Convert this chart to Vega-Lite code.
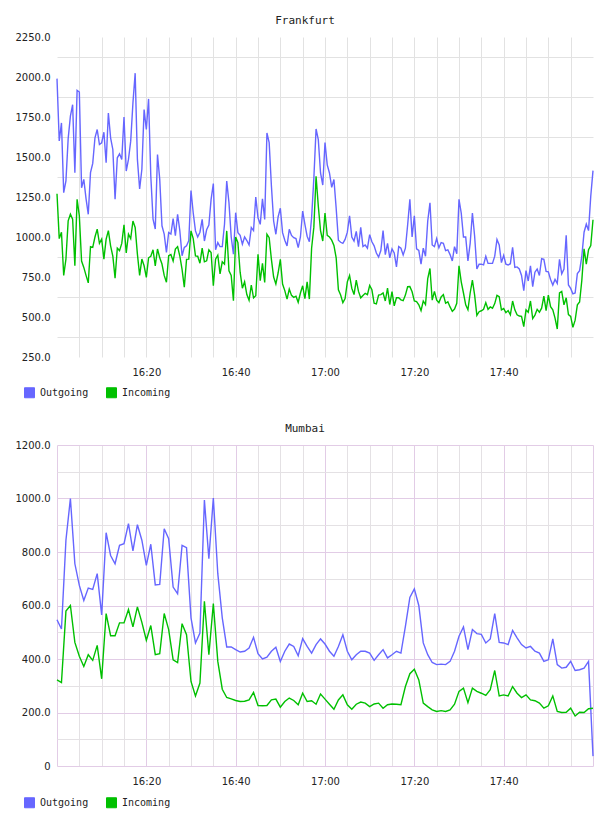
{
  "$schema": "https://vega.github.io/schema/vega-lite/v6.json",
  "background": "white",
  "padding": {"left": 15, "top": 15, "right": 12, "bottom": 5},
  "spacing": 23,
  "resolve": {"legend": {"color": "independent"}},
  "config": {
    "view": {"stroke": null},
    "title": {"font": "DejaVu Sans Mono", "fontSize": 11, "fontWeight": "normal", "color": "#222222", "anchor": "middle", "offset": 6, "dx": -20},
    "axis": {"labelFont": "DejaVu Sans", "labelFontSize": 10, "labelColor": "#222222", "domain": false, "ticks": false, "title": null, "labelOverlap": false, "labelFlush": false},
    "legend": {"orient": "none", "direction": "horizontal", "title": null, "symbolType": "square", "symbolSize": 100, "symbolStrokeWidth": 1, "labelFont": "DejaVu Sans Mono", "labelFontSize": 10, "labelColor": "#222222", "labelOffset": 5, "columnPadding": 15, "padding": 0}
  },
  "vconcat": [
    {
      "title": "Frankfurt",
      "width": 536,
      "height": 320,
      "data": {
        "values": [
          {"m":0,"Outgoing":1990,"Incoming":1270},{"m":0.5,"Outgoing":1600,"Incoming":990},{"m":1,"Outgoing":1713,"Incoming":1030},{"m":1.5,"Outgoing":1277,"Incoming":760},{"m":2,"Outgoing":1350,"Incoming":862},{"m":2.5,"Outgoing":1615,"Incoming":1101},{"m":3,"Outgoing":1755,"Incoming":1142},{"m":3.5,"Outgoing":1827,"Incoming":1111},{"m":4,"Outgoing":1402,"Incoming":821},{"m":4.5,"Outgoing":1916,"Incoming":1236},
          {"m":5,"Outgoing":1906,"Incoming":1132},{"m":5.5,"Outgoing":1308,"Incoming":850},{"m":6,"Outgoing":1360,"Incoming":810},{"m":6.5,"Outgoing":1240,"Incoming":760},{"m":7,"Outgoing":1142,"Incoming":713},{"m":7.5,"Outgoing":1402,"Incoming":940},{"m":8,"Outgoing":1460,"Incoming":935},{"m":8.5,"Outgoing":1620,"Incoming":1000},{"m":9,"Outgoing":1672,"Incoming":1049},{"m":9.5,"Outgoing":1578,"Incoming":960},
          {"m":10,"Outgoing":1589,"Incoming":987},{"m":10.5,"Outgoing":1655,"Incoming":862},{"m":11,"Outgoing":1464,"Incoming":987},{"m":11.5,"Outgoing":1775,"Incoming":1040},{"m":12,"Outgoing":1620,"Incoming":945},{"m":12.5,"Outgoing":1547,"Incoming":880},{"m":13,"Outgoing":1236,"Incoming":742},{"m":13.5,"Outgoing":1495,"Incoming":930},{"m":14,"Outgoing":1520,"Incoming":915},{"m":14.5,"Outgoing":1485,"Incoming":960},
          {"m":15,"Outgoing":1750,"Incoming":1076},{"m":15.5,"Outgoing":1412,"Incoming":900},{"m":16,"Outgoing":1485,"Incoming":1018},{"m":16.5,"Outgoing":1599,"Incoming":990},{"m":17,"Outgoing":1838,"Incoming":1100},{"m":17.5,"Outgoing":2024,"Incoming":1060},{"m":18,"Outgoing":1485,"Incoming":893},{"m":18.5,"Outgoing":1300,"Incoming":760},{"m":19,"Outgoing":1423,"Incoming":862},{"m":19.5,"Outgoing":1796,"Incoming":820},
          {"m":20,"Outgoing":1672,"Incoming":748},{"m":20.5,"Outgoing":1863,"Incoming":870},{"m":21,"Outgoing":1381,"Incoming":880},{"m":21.5,"Outgoing":1111,"Incoming":920},{"m":22,"Outgoing":1050,"Incoming":820},{"m":22.5,"Outgoing":1516,"Incoming":925},{"m":23,"Outgoing":1360,"Incoming":870},{"m":23.5,"Outgoing":1070,"Incoming":831},{"m":24,"Outgoing":1018,"Incoming":760},{"m":24.5,"Outgoing":904,"Incoming":717},
          {"m":25,"Outgoing":1028,"Incoming":883},{"m":25.5,"Outgoing":1018,"Incoming":890},{"m":26,"Outgoing":1115,"Incoming":850},{"m":26.5,"Outgoing":1008,"Incoming":925},{"m":27,"Outgoing":1142,"Incoming":940},{"m":27.5,"Outgoing":1039,"Incoming":880},{"m":28,"Outgoing":883,"Incoming":798},{"m":28.5,"Outgoing":935,"Incoming":686},{"m":29,"Outgoing":945,"Incoming":860},{"m":29.5,"Outgoing":977,"Incoming":862},
          {"m":30,"Outgoing":1290,"Incoming":1038},{"m":30.5,"Outgoing":1150,"Incoming":990},{"m":31,"Outgoing":1038,"Incoming":882},{"m":31.5,"Outgoing":1000,"Incoming":880},{"m":32,"Outgoing":1030,"Incoming":836},{"m":32.5,"Outgoing":1110,"Incoming":930},{"m":33,"Outgoing":975,"Incoming":845},{"m":33.5,"Outgoing":1045,"Incoming":851},{"m":34,"Outgoing":1075,"Incoming":920},{"m":34.5,"Outgoing":1235,"Incoming":903},
          {"m":35,"Outgoing":1334,"Incoming":695},{"m":35.5,"Outgoing":920,"Incoming":861},{"m":36,"Outgoing":965,"Incoming":886},{"m":36.5,"Outgoing":940,"Incoming":770},{"m":37,"Outgoing":940,"Incoming":845},{"m":37.5,"Outgoing":1080,"Incoming":830},{"m":38,"Outgoing":1349,"Incoming":1038},{"m":38.5,"Outgoing":1214,"Incoming":789},{"m":39,"Outgoing":1000,"Incoming":760},{"m":39.5,"Outgoing":892,"Incoming":602},
          {"m":40,"Outgoing":1152,"Incoming":1000},{"m":40.5,"Outgoing":1027,"Incoming":965},{"m":41,"Outgoing":1010,"Incoming":780},{"m":41.5,"Outgoing":955,"Incoming":680},{"m":42,"Outgoing":1000,"Incoming":720},{"m":42.5,"Outgoing":978,"Incoming":640},{"m":43,"Outgoing":950,"Incoming":605},{"m":43.5,"Outgoing":1059,"Incoming":700},{"m":44,"Outgoing":1040,"Incoming":620},{"m":44.5,"Outgoing":1250,"Incoming":633},
          {"m":45,"Outgoing":1120,"Incoming":892},{"m":45.5,"Outgoing":1079,"Incoming":727},{"m":46,"Outgoing":1239,"Incoming":835},{"m":46.5,"Outgoing":1110,"Incoming":716},{"m":47,"Outgoing":1650,"Incoming":1017},{"m":47.5,"Outgoing":1590,"Incoming":996},{"m":48,"Outgoing":1320,"Incoming":860},{"m":48.5,"Outgoing":1100,"Incoming":750},{"m":49,"Outgoing":1017,"Incoming":706},{"m":49.5,"Outgoing":1125,"Incoming":775},
          {"m":50,"Outgoing":1180,"Incoming":860},{"m":50.5,"Outgoing":1027,"Incoming":706},{"m":51,"Outgoing":980,"Incoming":665},{"m":51.5,"Outgoing":944,"Incoming":612},{"m":52,"Outgoing":1048,"Incoming":675},{"m":52.5,"Outgoing":1010,"Incoming":635},{"m":53,"Outgoing":996,"Incoming":623},{"m":53.5,"Outgoing":990,"Incoming":630},{"m":54,"Outgoing":934,"Incoming":592},{"m":54.5,"Outgoing":1000,"Incoming":650},
          {"m":55,"Outgoing":1162,"Incoming":695},{"m":55.5,"Outgoing":1079,"Incoming":615},{"m":56,"Outgoing":1005,"Incoming":720},{"m":56.5,"Outgoing":970,"Incoming":612},{"m":57,"Outgoing":1120,"Incoming":930},{"m":57.5,"Outgoing":1365,"Incoming":1060},{"m":58,"Outgoing":1675,"Incoming":1380},{"m":58.5,"Outgoing":1608,"Incoming":1193},{"m":59,"Outgoing":1400,"Incoming":1040},{"m":59.5,"Outgoing":1325,"Incoming":975},
          {"m":60,"Outgoing":1590,"Incoming":1150},{"m":60.5,"Outgoing":1451,"Incoming":1010},{"m":61,"Outgoing":1400,"Incoming":1000},{"m":61.5,"Outgoing":1310,"Incoming":980},{"m":62,"Outgoing":1359,"Incoming":947},{"m":62.5,"Outgoing":1180,"Incoming":870},{"m":63,"Outgoing":980,"Incoming":670},{"m":63.5,"Outgoing":967,"Incoming":637},{"m":64,"Outgoing":960,"Incoming":590},{"m":64.5,"Outgoing":985,"Incoming":615},
          {"m":65,"Outgoing":1030,"Incoming":720},{"m":65.5,"Outgoing":1132,"Incoming":760},{"m":66,"Outgoing":1000,"Incoming":680},{"m":66.5,"Outgoing":975,"Incoming":640},{"m":67,"Outgoing":1035,"Incoming":730},{"m":67.5,"Outgoing":940,"Incoming":660},{"m":68,"Outgoing":1060,"Incoming":620},{"m":68.5,"Outgoing":940,"Incoming":635},{"m":69,"Outgoing":950,"Incoming":648},{"m":69.5,"Outgoing":930,"Incoming":640},
          {"m":70,"Outgoing":1015,"Incoming":697},{"m":70.5,"Outgoing":970,"Incoming":670},{"m":71,"Outgoing":945,"Incoming":586},{"m":71.5,"Outgoing":900,"Incoming":582},{"m":72,"Outgoing":875,"Incoming":637},{"m":72.5,"Outgoing":915,"Incoming":640},{"m":73,"Outgoing":1040,"Incoming":650},{"m":73.5,"Outgoing":890,"Incoming":600},{"m":74,"Outgoing":960,"Incoming":680},{"m":74.5,"Outgoing":870,"Incoming":578},
          {"m":75,"Outgoing":926,"Incoming":658},{"m":75.5,"Outgoing":900,"Incoming":570},{"m":76,"Outgoing":813,"Incoming":620},{"m":76.5,"Outgoing":940,"Incoming":620},{"m":77,"Outgoing":930,"Incoming":607},{"m":77.5,"Outgoing":888,"Incoming":602},{"m":78,"Outgoing":930,"Incoming":637},{"m":78.5,"Outgoing":1075,"Incoming":689},{"m":79,"Outgoing":1235,"Incoming":690},{"m":79.5,"Outgoing":1000,"Incoming":658},
          {"m":80,"Outgoing":1132,"Incoming":600},{"m":80.5,"Outgoing":926,"Incoming":596},{"m":81,"Outgoing":916,"Incoming":576},{"m":81.5,"Outgoing":830,"Incoming":540},{"m":82,"Outgoing":930,"Incoming":600},{"m":82.5,"Outgoing":880,"Incoming":578},{"m":83,"Outgoing":1100,"Incoming":740},{"m":83.5,"Outgoing":1214,"Incoming":803},{"m":84,"Outgoing":950,"Incoming":605},{"m":84.5,"Outgoing":940,"Incoming":660},
          {"m":85,"Outgoing":990,"Incoming":605},{"m":85.5,"Outgoing":932,"Incoming":590},{"m":86,"Outgoing":965,"Incoming":625},{"m":86.5,"Outgoing":960,"Incoming":640},{"m":87,"Outgoing":915,"Incoming":586},{"m":87.5,"Outgoing":920,"Incoming":595},{"m":88,"Outgoing":890,"Incoming":563},{"m":88.5,"Outgoing":850,"Incoming":535},{"m":89,"Outgoing":940,"Incoming":550},{"m":89.5,"Outgoing":895,"Incoming":586},
          {"m":90,"Outgoing":1235,"Incoming":820},{"m":90.5,"Outgoing":1150,"Incoming":720},{"m":91,"Outgoing":1000,"Incoming":650},{"m":91.5,"Outgoing":1000,"Incoming":576},{"m":92,"Outgoing":850,"Incoming":545},{"m":92.5,"Outgoing":960,"Incoming":650},{"m":93,"Outgoing":1150,"Incoming":730},{"m":93.5,"Outgoing":1005,"Incoming":637},{"m":94,"Outgoing":800,"Incoming":510},{"m":94.5,"Outgoing":830,"Incoming":533},
          {"m":95,"Outgoing":830,"Incoming":539},{"m":95.5,"Outgoing":826,"Incoming":548},{"m":96,"Outgoing":880,"Incoming":590},{"m":96.5,"Outgoing":835,"Incoming":548},{"m":97,"Outgoing":835,"Incoming":563},{"m":97.5,"Outgoing":835,"Incoming":555},{"m":98,"Outgoing":880,"Incoming":584},{"m":98.5,"Outgoing":985,"Incoming":635},{"m":99,"Outgoing":950,"Incoming":627},{"m":99.5,"Outgoing":840,"Incoming":545},
          {"m":100,"Outgoing":885,"Incoming":553},{"m":100.5,"Outgoing":830,"Incoming":527},{"m":101,"Outgoing":825,"Incoming":540},{"m":101.5,"Outgoing":833,"Incoming":514},{"m":102,"Outgoing":936,"Incoming":600},{"m":102.5,"Outgoing":810,"Incoming":545},{"m":103,"Outgoing":813,"Incoming":514},{"m":103.5,"Outgoing":800,"Incoming":506},{"m":104,"Outgoing":760,"Incoming":504},{"m":104.5,"Outgoing":665,"Incoming":440},
          {"m":105,"Outgoing":790,"Incoming":545},{"m":105.5,"Outgoing":725,"Incoming":530},{"m":106,"Outgoing":820,"Incoming":600},{"m":106.5,"Outgoing":690,"Incoming":490},{"m":107,"Outgoing":780,"Incoming":512},{"m":107.5,"Outgoing":800,"Incoming":548},{"m":108,"Outgoing":760,"Incoming":530},{"m":108.5,"Outgoing":864,"Incoming":555},{"m":109,"Outgoing":860,"Incoming":630},{"m":109.5,"Outgoing":785,"Incoming":540},
          {"m":110,"Outgoing":782,"Incoming":637},{"m":110.5,"Outgoing":735,"Incoming":565},{"m":111,"Outgoing":700,"Incoming":545},{"m":111.5,"Outgoing":735,"Incoming":493},{"m":112,"Outgoing":710,"Incoming":425},{"m":112.5,"Outgoing":860,"Incoming":650},{"m":113,"Outgoing":770,"Incoming":660},{"m":113.5,"Outgoing":800,"Incoming":576},{"m":114,"Outgoing":1010,"Incoming":620},{"m":114.5,"Outgoing":700,"Incoming":515},
          {"m":115,"Outgoing":679,"Incoming":504},{"m":115.5,"Outgoing":645,"Incoming":435},{"m":116,"Outgoing":650,"Incoming":480},{"m":116.5,"Outgoing":772,"Incoming":576},{"m":117,"Outgoing":790,"Incoming":594},{"m":117.5,"Outgoing":880,"Incoming":730},{"m":118,"Outgoing":1030,"Incoming":926},{"m":118.5,"Outgoing":1080,"Incoming":830},{"m":119,"Outgoing":1040,"Incoming":920},{"m":119.5,"Outgoing":1256,"Incoming":947},
          {"m":120,"Outgoing":1415,"Incoming":1108}
        ]
      },
      "transform": [{"fold": ["Outgoing", "Incoming"], "as": ["dir", "v"]}],
      "mark": {"type": "line", "strokeWidth": 1.4},
      "encoding": {
        "x": {
          "field": "m", "type": "quantitative",
          "scale": {"domain": [0, 120], "nice": false},
          "axis": {
            "values": [5, 10, 15, 20, 25, 30, 35, 40, 45, 50, 55, 60, 65, 70, 75, 80, 85, 90, 95, 100, 105, 110, 115],
            "grid": true, "gridColor": "#e2e2e2", "gridWidth": 1,
            "labelExpr": "datum.value == 20 ? '16:20' : datum.value == 40 ? '16:40' : datum.value == 60 ? '17:00' : datum.value == 80 ? '17:20' : datum.value == 100 ? '17:40' : ''",
            "labelPadding": 10
          }
        },
        "y": {
          "field": "v", "type": "quantitative",
          "scale": {"domain": [250, 2250], "nice": false, "zero": false},
          "axis": {
            "values": [250, 375, 500, 625, 750, 875, 1000, 1125, 1250, 1375, 1500, 1625, 1750, 1875, 2000, 2125, 2250],
            "labelExpr": "datum.value % 250 == 0 ? format(datum.value, '.1f') : ''",
            "grid": true, "gridColor": "#e2e2e2", "gridWidth": 1,
            "gridOpacity": {"condition": {"test": "datum.value % 250 == 0", "value": 0}, "value": 1},
            "labelPadding": 7
          }
        },
        "color": {
          "field": "dir", "type": "nominal",
          "scale": {"domain": ["Outgoing", "Incoming"], "range": ["#6666ff", "#00c000"]},
          "legend": {
            "legendX": -33, "legendY": 350,
            "encode": {"symbols": {"update": {"fill": {"signal": "datum.value == 'Outgoing' ? '#6666ff' : '#00c000'"}, "fillOpacity": {"value": 1}, "stroke": {"value": "#999999"}}}}
          }
        }
      }
    },
    {
      "title": "Mumbai",
      "width": 536,
      "height": 321,
      "data": {
        "values": [
          {"m":0,"Outgoing":547,"Incoming":322},{"m":1,"Outgoing":512,"Incoming":312},{"m":2,"Outgoing":844,"Incoming":579},{"m":3,"Outgoing":1000,"Incoming":600},{"m":4,"Outgoing":756,"Incoming":462},{"m":5,"Outgoing":675,"Incoming":410},{"m":6,"Outgoing":619,"Incoming":372},{"m":7,"Outgoing":665,"Incoming":416},{"m":8,"Outgoing":660,"Incoming":395},{"m":9,"Outgoing":719,"Incoming":451},
          {"m":10,"Outgoing":565,"Incoming":326},{"m":11,"Outgoing":872,"Incoming":570},{"m":12,"Outgoing":787,"Incoming":487},{"m":13,"Outgoing":756,"Incoming":487},{"m":14,"Outgoing":825,"Incoming":535},{"m":15,"Outgoing":831,"Incoming":535},{"m":16,"Outgoing":906,"Incoming":585},{"m":17,"Outgoing":804,"Incoming":520},{"m":18,"Outgoing":902,"Incoming":595},{"m":19,"Outgoing":844,"Incoming":537},
          {"m":20,"Outgoing":750,"Incoming":470},{"m":21,"Outgoing":829,"Incoming":525},{"m":22,"Outgoing":677,"Incoming":416},{"m":23,"Outgoing":679,"Incoming":420},{"m":24,"Outgoing":887,"Incoming":570},{"m":25,"Outgoing":850,"Incoming":510},{"m":26,"Outgoing":669,"Incoming":397},{"m":27,"Outgoing":644,"Incoming":387},{"m":28,"Outgoing":825,"Incoming":532},{"m":29,"Outgoing":816,"Incoming":491},
          {"m":30,"Outgoing":554,"Incoming":316},{"m":31,"Outgoing":460,"Incoming":262},{"m":32,"Outgoing":497,"Incoming":310},{"m":33,"Outgoing":994,"Incoming":616},{"m":34,"Outgoing":775,"Incoming":416},{"m":35,"Outgoing":1002,"Incoming":607},{"m":36,"Outgoing":719,"Incoming":391},{"m":37,"Outgoing":554,"Incoming":287},{"m":38,"Outgoing":445,"Incoming":256},{"m":39,"Outgoing":445,"Incoming":251},
          {"m":40,"Outgoing":435,"Incoming":245},{"m":41,"Outgoing":426,"Incoming":241},{"m":42,"Outgoing":429,"Incoming":242},{"m":43,"Outgoing":441,"Incoming":247},{"m":44,"Outgoing":481,"Incoming":275},{"m":45,"Outgoing":420,"Incoming":226},{"m":46,"Outgoing":400,"Incoming":225},{"m":47,"Outgoing":407,"Incoming":226},{"m":48,"Outgoing":429,"Incoming":247},{"m":49,"Outgoing":444,"Incoming":250},
          {"m":50,"Outgoing":391,"Incoming":220},{"m":51,"Outgoing":429,"Incoming":241},{"m":52,"Outgoing":456,"Incoming":254},{"m":53,"Outgoing":447,"Incoming":245},{"m":54,"Outgoing":412,"Incoming":229},{"m":55,"Outgoing":476,"Incoming":272},{"m":56,"Outgoing":447,"Incoming":241},{"m":57,"Outgoing":422,"Incoming":244},{"m":58,"Outgoing":454,"Incoming":231},{"m":59,"Outgoing":475,"Incoming":269},
          {"m":60,"Outgoing":456,"Incoming":250},{"m":61,"Outgoing":429,"Incoming":231},{"m":62,"Outgoing":410,"Incoming":212},{"m":63,"Outgoing":447,"Incoming":247},{"m":64,"Outgoing":491,"Incoming":266},{"m":65,"Outgoing":429,"Incoming":229},{"m":66,"Outgoing":397,"Incoming":212},{"m":67,"Outgoing":416,"Incoming":231},{"m":68,"Outgoing":429,"Incoming":239},{"m":69,"Outgoing":429,"Incoming":235},
          {"m":70,"Outgoing":422,"Incoming":222},{"m":71,"Outgoing":395,"Incoming":232},{"m":72,"Outgoing":416,"Incoming":235},{"m":73,"Outgoing":435,"Incoming":216},{"m":74,"Outgoing":404,"Incoming":229},{"m":75,"Outgoing":416,"Incoming":232},{"m":76,"Outgoing":429,"Incoming":231},{"m":77,"Outgoing":422,"Incoming":229},{"m":78,"Outgoing":522,"Incoming":297},{"m":79,"Outgoing":630,"Incoming":345},
          {"m":80,"Outgoing":662,"Incoming":362},{"m":81,"Outgoing":600,"Incoming":322},{"m":82,"Outgoing":460,"Incoming":235},{"m":83,"Outgoing":416,"Incoming":222},{"m":84,"Outgoing":387,"Incoming":210},{"m":85,"Outgoing":379,"Incoming":204},{"m":86,"Outgoing":381,"Incoming":207},{"m":87,"Outgoing":379,"Incoming":204},{"m":88,"Outgoing":391,"Incoming":210},{"m":89,"Outgoing":429,"Incoming":231},
          {"m":90,"Outgoing":485,"Incoming":279},{"m":91,"Outgoing":520,"Incoming":291},{"m":92,"Outgoing":435,"Incoming":237},{"m":93,"Outgoing":510,"Incoming":291},{"m":94,"Outgoing":495,"Incoming":279},{"m":95,"Outgoing":492,"Incoming":272},{"m":96,"Outgoing":460,"Incoming":264},{"m":97,"Outgoing":475,"Incoming":285},{"m":98,"Outgoing":570,"Incoming":357},{"m":99,"Outgoing":462,"Incoming":262},
          {"m":100,"Outgoing":460,"Incoming":266},{"m":101,"Outgoing":454,"Incoming":262},{"m":102,"Outgoing":507,"Incoming":297},{"m":103,"Outgoing":479,"Incoming":272},{"m":104,"Outgoing":454,"Incoming":256},{"m":105,"Outgoing":441,"Incoming":266},{"m":106,"Outgoing":447,"Incoming":247},{"m":107,"Outgoing":429,"Incoming":244},{"m":108,"Outgoing":422,"Incoming":235},{"m":109,"Outgoing":391,"Incoming":216},
          {"m":110,"Outgoing":397,"Incoming":225},{"m":111,"Outgoing":475,"Incoming":262},{"m":112,"Outgoing":379,"Incoming":204},{"m":113,"Outgoing":366,"Incoming":200},{"m":114,"Outgoing":369,"Incoming":201},{"m":115,"Outgoing":391,"Incoming":216},{"m":116,"Outgoing":357,"Incoming":187},{"m":117,"Outgoing":360,"Incoming":201},{"m":118,"Outgoing":366,"Incoming":200},{"m":119,"Outgoing":391,"Incoming":214},
          {"m":120,"Outgoing":37,"Incoming":216}
        ]
      },
      "transform": [{"fold": ["Outgoing", "Incoming"], "as": ["dir", "v"]}],
      "mark": {"type": "line", "strokeWidth": 1.4},
      "encoding": {
        "x": {
          "field": "m", "type": "quantitative",
          "scale": {"domain": [0, 120], "nice": false},
          "axis": {
            "values": [0, 5, 10, 15, 20, 25, 30, 35, 40, 45, 50, 55, 60, 65, 70, 75, 80, 85, 90, 95, 100, 105, 110, 115, 120],
            "grid": true, "gridWidth": 1,
            "gridColor": {"condition": {"test": "datum.value % 20 == 0", "value": "#e2cce6"}, "value": "#e4e1e4"},
            "labelExpr": "datum.value == 20 ? '16:20' : datum.value == 40 ? '16:40' : datum.value == 60 ? '17:00' : datum.value == 80 ? '17:20' : datum.value == 100 ? '17:40' : ''",
            "labelPadding": 10
          }
        },
        "y": {
          "field": "v", "type": "quantitative",
          "scale": {"domain": [0, 1200], "nice": false},
          "axis": {
            "values": [0, 100, 200, 300, 400, 500, 600, 700, 800, 900, 1000, 1100, 1200],
            "labelExpr": "datum.value == 0 ? '0' : (datum.value % 200 == 0 ? format(datum.value, '.1f') : '')",
            "grid": true, "gridWidth": 1,
            "gridColor": {"condition": {"test": "datum.value % 200 == 0", "value": "#e2cce6"}, "value": "#e4e1e4"},
            "labelPadding": 7
          }
        },
        "color": {
          "field": "dir", "type": "nominal",
          "scale": {"domain": ["Outgoing", "Incoming"], "range": ["#6666ff", "#00c000"]},
          "legend": {
            "legendX": -33, "legendY": 352,
            "encode": {"symbols": {"update": {"fill": {"signal": "datum.value == 'Outgoing' ? '#6666ff' : '#00c000'"}, "fillOpacity": {"value": 1}, "stroke": {"value": "#999999"}}}}
          }
        }
      }
    }
  ]
}
